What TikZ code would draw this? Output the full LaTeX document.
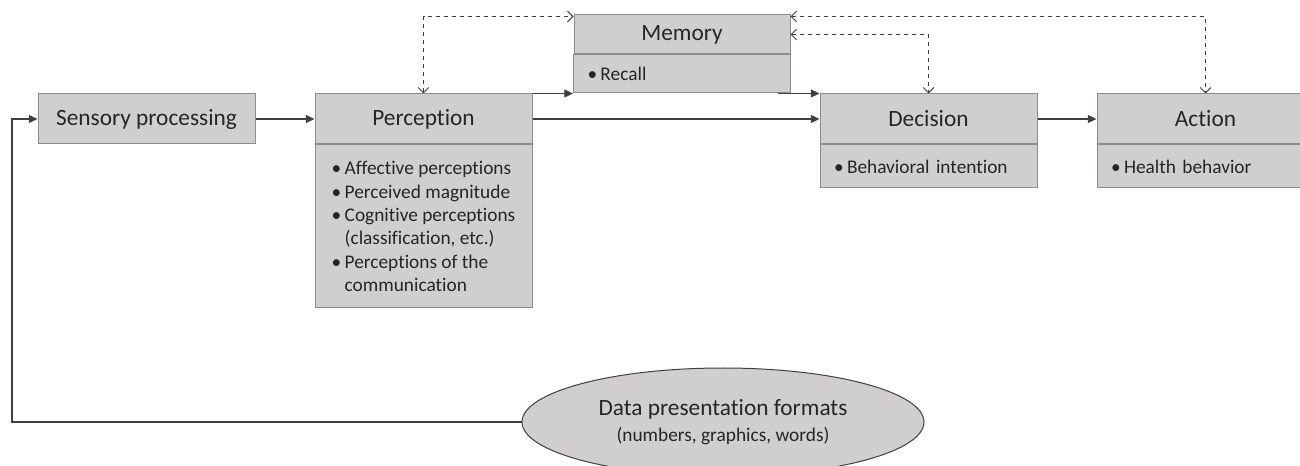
\documentclass[tikz,border=0pt]{standalone}
\usepackage{fontspec}
\setmainfont{Carlito}[Ligatures=NoCommon]
\usetikzlibrary{positioning,arrows.meta,shapes.geometric}
\definecolor{boxfill}{HTML}{D0CECE}
\definecolor{boxline}{HTML}{8C8C8C}
\definecolor{linecol}{HTML}{404040}
\newcommand{\bul}{\makebox[9.75pt][l]{\textbullet}}

\begin{document}
\begin{tikzpicture}[x=0.75pt, y=-0.75pt,
  head/.style={draw=boxline, fill=boxfill, line width=0.75pt,
               minimum width=162.75pt, minimum height=37.5pt,
               inner sep=0pt, text=black!85,
               font=\fontsize{17.5}{21}\selectfont},
  body/.style={draw=boxline, fill=boxfill, line width=0.75pt,
               minimum width=162.75pt, inner xsep=10.5pt, inner ysep=0pt,
               text width=141.75pt, align=left, text=black!85,
               font=\fontsize{14.5}{17.5}\selectfont},
  source/.style={ellipse, draw=linecol, fill=boxfill, line width=0.75pt,
                 minimum width=301.5pt, minimum height=81pt, inner sep=0pt,
                 align=center, text=black!85,
                 font=\fontsize{17.5}{19}\selectfont},
  arr/.style={-{Triangle[length=6.5pt,width=6pt]}, line width=0.9pt, linecol},
  link/.style={{Straight Barb[length=4pt,width=8pt]}-{Straight Barb[length=4pt,width=8pt]},
               dash pattern=on 3.5pt off 2.5pt, line width=0.75pt, linecol},
  ]
  \useasboundingbox (0,0) rectangle (1300,466);

  % stages along the top row
  \node[head] (sens) at (146.5,119) {Sensory processing};
  \node[head, right=44.25pt of sens] (perc) {Perception};
  \node[body, below=0pt of perc, minimum height=122.25pt, text width=] (percb)
       {\bul Affective perceptions\\
        \bul Perceived magnitude\\
        \bul Cognitive perceptions\\
        \hspace*{9.75pt}(classification, etc.)\\
        \bul Perceptions of the\\
        \hspace*{9.75pt}communication};
  \node[head, right=215.25pt of perc] (dec) {Decision};
  \node[body, below=0pt of dec, minimum height=32.25pt] (decb) {\bul Behavioral intention};
  \node[head, right=44.25pt of dec] (act) {Action};
  \node[body, below=0pt of act, minimum height=32.25pt] (actb) {\bul Health behavior};

  % memory above
  \node[head, minimum width=162pt, minimum height=29.25pt] (mem) at (682,34.5) {Memory};
  \node[body, below=0pt of mem, minimum width=162pt, minimum height=28.5pt] (memb) {\bul Recall};

  % input formats
  \node[source] (data) at (723,422)
       {Data presentation formats\\{\fontsize{14.5}{17}\selectfont (numbers, graphics, words)}};
  \coordinate (loop) at (12,422);

  \draw[arr] (data.west) -- (loop) |- (sens.west);
  \draw[arr] (sens) -- (perc);
  \draw[arr] (perc) -- (dec);
  \draw[arr] (perc.north east) -- (perc.north east -| memb.west);
  \draw[arr] ([xshift=-9.75pt]memb.south east) -- (memb.south east -| dec.west);
  \draw[arr] (dec) -- (act);

  % links with memory
  \draw[link] (perc.north) |- ([yshift=-1.5pt]mem.north west);
  \draw[link] ([yshift=-1.5pt]mem.north east) -| (act.north);
  \draw[link] (mem.east) -| (dec.north);
\end{tikzpicture}
\end{document}
